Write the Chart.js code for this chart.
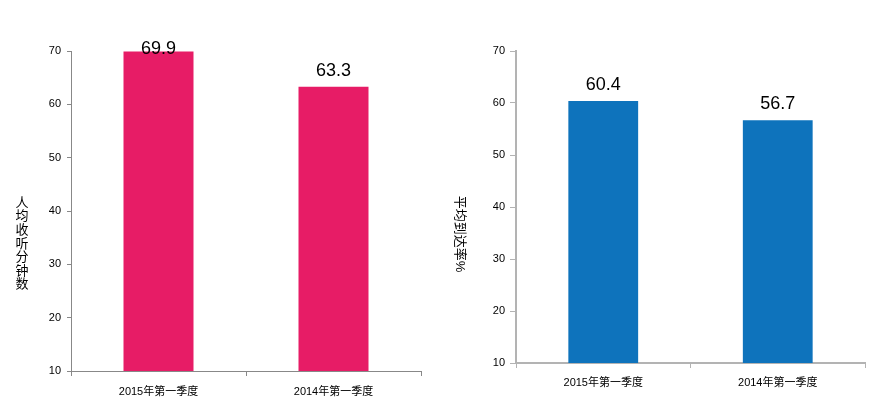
<!DOCTYPE html>
<html>
<head>
<meta charset="utf-8">
<script src="https://cdn.jsdelivr.net/npm/chart.js@4"></script>
<style>
  body { margin: 0; background: #fff; }
  .box { position: absolute; top: 0; width: 440px; height: 414px; }
</style>
</head>
<body>
<div class="box" style="left:0"><canvas id="chartLeft" width="440" height="414"></canvas></div>
<div class="box" style="left:440px"><canvas id="chartRight" width="440" height="414"></canvas></div>
<script>
const categories = ['2015年第一季度', '2014年第一季度'];
const listenMinutes = [69.9, 63.3];
const reachRate = [60.4, 56.7];
const yMin = 10, yMax = 70, yStep = 10;

const FONT = "'Liberation Sans', Arial, 'Noto Sans CJK SC', sans-serif";

// value labels above bars, kept inside the top of the plot
const barLabels = {
  id: 'barLabels',
  afterDatasetsDraw(chart) {
    const ctx = chart.ctx;
    const meta = chart.getDatasetMeta(0);
    ctx.save();
    ctx.font = '18px ' + FONT;
    ctx.fillStyle = '#000';
    ctx.textAlign = 'center';
    ctx.textBaseline = 'middle';
    meta.data.forEach((bar, i) => {
      const v = chart.data.datasets[0].data[i];
      const y = Math.max(bar.y - 16, chart.chartArea.top - 1.5);
      ctx.fillText(v.toFixed(1), bar.x, y);
    });
    ctx.restore();
  }
};

// axis titles drawn by hand (vertical stack on the left, rotated on the right)
const axisTitle = {
  id: 'axisTitle',
  afterDraw(chart, args, opts) {
    const ctx = chart.ctx;
    ctx.save();
    ctx.font = '13px ' + FONT;
    ctx.fillStyle = '#000';
    ctx.textAlign = 'center';
    ctx.textBaseline = 'middle';
    if (opts.mode === 'stack') {
      const chars = Array.from(opts.text);
      const lh = 13.6;
      const y0 = opts.y - (chars.length - 1) * lh / 2;
      chars.forEach((c, i) => ctx.fillText(c, opts.x, y0 + i * lh));
    } else {
      ctx.translate(opts.x, opts.y);
      ctx.rotate(Math.PI / 2);
      ctx.fillText(opts.text, 0, 0);
    }
    ctx.restore();
  }
};

function makeChart(id, values, color, axisColor, axisWidth, yWidth, xHeight, padRight, tickLen, yPad, xPad, title) {
  return new Chart(document.getElementById(id), {
    type: 'bar',
    data: {
      labels: categories,
      datasets: [{
        data: values,
        backgroundColor: color,
        categoryPercentage: 1,
        barPercentage: 0.4
      }]
    },
    options: {
      responsive: false,
      animation: false,
      layout: { padding: { top: 51, right: padRight, left: 0, bottom: 0 } },
      plugins: {
        legend: { display: false },
        tooltip: { enabled: false },
        axisTitle: title
      },
      scales: {
        x: {
          grid: { drawOnChartArea: false, color: axisColor, tickLength: 5, lineWidth: 1 },
          border: { color: axisColor, width: axisWidth },
          ticks: { color: '#000', font: { family: FONT, size: 11 }, padding: xPad, maxRotation: 0 },
          afterFit(s) { s.height = xHeight; }
        },
        y: {
          min: yMin,
          max: yMax,
          grid: { drawOnChartArea: false, color: axisColor, tickLength: tickLen },
          border: { color: axisColor, width: axisWidth },
          ticks: { stepSize: yStep, color: '#000', font: { family: FONT, size: 11 }, padding: yPad },
          afterFit(s) { s.width = yWidth; }
        }
      }
    },
    plugins: [barLabels, axisTitle]
  });
}

makeChart('chartLeft', listenMinutes, '#E71C66', '#888888', 1, 71, 43, 19, 4, 6, 9,
  { mode: 'stack', text: '人均收听分钟数', x: 22, y: 244 });
makeChart('chartRight', reachRate, '#0E73BC', '#b3b3b3', 2, 76, 51, 15, 6, 5, 8,
  { mode: 'rotate', text: '平均到达率%', x: 20, y: 234 });
</script>
</body>
</html>
